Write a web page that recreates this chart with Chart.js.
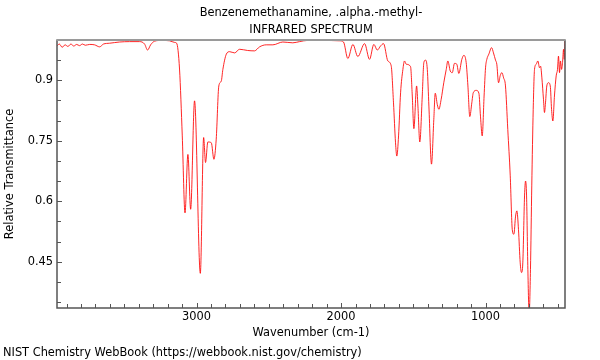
<!DOCTYPE html>
<html>
<head>
<meta charset="utf-8">
<script src="https://cdn.jsdelivr.net/npm/chart.js@4"></script>
<style>
  html, body { margin: 0; padding: 0; background: #fff; }
  #wrap { width: 600px; height: 360px; }
</style>
</head>
<body>
<div id="wrap"><canvas id="c" width="600" height="360"></canvas></div>
<script>
const titleLines = ['Benzenemethanamine, .alpha.-methyl-', 'INFRARED SPECTRUM'];
const footerText = 'NIST Chemistry WebBook (https://webbook.nist.gov/chemistry)';
const xTitle = 'Wavenumber (cm-1)';
const yTitle = 'Relative Transmittance';
const xTickLabels = ['1000', '2000', '3000'];
const yTickLabels = ['0.45', '0.6', '0.75', '0.9'];

const wavenumbers = [
  3966, 3950, 3930, 3910, 3890, 3870, 3850, 3830, 3810, 3790,
  3770, 3740, 3706, 3671, 3644, 3602, 3533, 3464, 3394, 3360,
  3339, 3318, 3291, 3242, 3187, 3152, 3138, 3118, 3099, 3080,
  3060, 3041, 3014, 2974, 2951, 2938, 2922, 2898, 2880, 2864,
  2846, 2829, 2818, 2794, 2771, 2737, 2702, 2647, 2599, 2564,
  2518, 2472, 2403, 2334, 2287, 2230, 2126, 2010, 1983, 1953,
  1918, 1884, 1837, 1803, 1773, 1749, 1727, 1706, 1676, 1653,
  1637, 1623, 1614, 1602, 1588, 1572, 1561, 1549, 1519, 1507,
  1496, 1477, 1468, 1455, 1438, 1427, 1415, 1403, 1392, 1374,
  1358, 1348, 1334, 1323, 1307, 1289, 1272, 1261, 1244, 1230,
  1215, 1199, 1185, 1164, 1150, 1134, 1122, 1109, 1095, 1085,
  1064, 1046, 1035, 1023, 1010, 1000, 991, 977, 958, 945,
  931, 922, 910, 898, 887, 875, 862, 846, 829, 815,
  804, 792, 783, 772, 760, 751, 742, 730, 723, 716,
  707, 698, 689, 680, 670, 661, 649, 638, 626, 619,
  610, 599, 592, 585, 576, 564, 552, 543, 534, 523,
  511, 502, 495, 488, 481, 474, 467, 460, 455, 451
];
const transmittance = [
  0.985, 0.990, 0.982, 0.988, 0.984, 0.990, 0.985, 0.989, 0.986, 0.990,
  0.987, 0.989, 0.988, 0.983, 0.990, 0.992, 0.995, 0.996, 0.996, 0.990,
  0.975, 0.988, 0.997, 0.999, 0.998, 0.994, 0.992, 0.928, 0.762, 0.571,
  0.716, 0.580, 0.849, 0.421, 0.758, 0.696, 0.747, 0.745, 0.704, 0.754,
  0.886, 0.898, 0.927, 0.965, 0.971, 0.968, 0.977, 0.974, 0.973, 0.983,
  0.988, 0.988, 0.995, 0.993, 0.996, 0.999, 0.999, 0.998, 0.995, 0.954,
  0.989, 0.959, 0.991, 0.952, 0.989, 0.975, 0.985, 0.991, 0.948, 0.936,
  0.844, 0.745, 0.712, 0.762, 0.869, 0.927, 0.948, 0.940, 0.934, 0.861,
  0.780, 0.886, 0.836, 0.747, 0.861, 0.944, 0.950, 0.927, 0.836, 0.692,
  0.803, 0.868, 0.840, 0.828, 0.853, 0.894, 0.927, 0.948, 0.923, 0.919,
  0.942, 0.940, 0.917, 0.952, 0.962, 0.944, 0.886, 0.810, 0.844, 0.869,
  0.875, 0.868, 0.811, 0.762, 0.861, 0.931, 0.952, 0.965, 0.981, 0.968,
  0.950, 0.940, 0.894, 0.912, 0.919, 0.906, 0.886, 0.778, 0.663, 0.530,
  0.518, 0.563, 0.576, 0.530, 0.447, 0.423, 0.447, 0.613, 0.650, 0.613,
  0.431, 0.320, 0.431, 0.638, 0.828, 0.927, 0.940, 0.948, 0.931, 0.935,
  0.906, 0.853, 0.820, 0.844, 0.886, 0.894, 0.886, 0.828, 0.799, 0.861,
  0.911, 0.927, 0.960, 0.919, 0.948, 0.927, 0.944, 0.977, 0.952, 0.997
];

const FONT = 'DejaVu Sans';
const FS = 11.4;

const points = wavenumbers.map((w, i) => ({ x: w, y: transmittance[i] }));

function near(v, arr) { return arr.some(s => Math.abs(parseFloat(s) - v) < 1e-6); }

const frameTicks = {
  id: 'frameTicks',
  afterDraw(chart) {
    const { ctx, chartArea: a, scales: { x, y } } = chart;
    ctx.save();
    ctx.strokeStyle = '#555';
    ctx.lineWidth = 1;
    ctx.beginPath();
    x.ticks.forEach(t => {
      const px = Math.round(x.getPixelForValue(t.value)) + 0.5;
      const len = near(t.value, xTickLabels) ? 5 : 4;
      ctx.moveTo(px, a.bottom);
      ctx.lineTo(px, a.bottom - len);
    });
    y.ticks.forEach(t => {
      const py = Math.round(y.getPixelForValue(t.value)) + 0.5;
      const len = near(t.value, yTickLabels) ? 5 : 4;
      ctx.moveTo(a.left, py);
      ctx.lineTo(a.left + len, py);
    });
    ctx.stroke();
    ctx.lineWidth = 1.5;
    ctx.strokeStyle = '#555';
    ctx.beginPath();
    ctx.moveTo(a.left, a.top);
    ctx.lineTo(a.left, a.bottom);
    ctx.lineTo(a.right, a.bottom);
    ctx.lineTo(a.right, a.top);
    ctx.stroke();
    ctx.strokeStyle = '#9a9a9a';
    ctx.lineWidth = 2;
    ctx.beginPath();
    ctx.moveTo(a.left - 0.75, a.top);
    ctx.lineTo(a.right + 0.75, a.top);
    ctx.stroke();
    ctx.restore();
  }
};

new Chart(document.getElementById('c'), {
  type: 'line',
  data: {
    datasets: [{
      data: points,
      borderColor: 'rgba(255,0,0,0.85)',
      borderWidth: 1,
      pointRadius: 0,
      fill: false,
      cubicInterpolationMode: 'monotone'
    }]
  },
  options: {
    responsive: false,
    animation: false,
    devicePixelRatio: 1,
    layout: { padding: { left: 3, right: 35, top: 0, bottom: 0 } },
    plugins: {
      legend: { display: false },
      tooltip: { enabled: false },
      title: {
        display: true,
        text: titleLines,
        fullSize: false,
        color: '#000',
        font: { family: FONT, size: FS, weight: 'normal', lineHeight: 17 / FS },
        padding: { top: 5, bottom: 1 }
      },
      subtitle: {
        display: true,
        text: footerText,
        position: 'bottom',
        align: 'start',
        fullSize: true,
        color: '#000',
        font: { family: FONT, size: FS, weight: 'normal', lineHeight: 14 / FS },
        padding: { top: 0, bottom: 0 }
      }
    },
    scales: {
      x: {
        type: 'linear',
        reverse: true,
        min: 450,
        max: 3966,
        grid: { display: false, drawTicks: false },
        border: { display: false },
        afterBuildTicks(scale) {
          const t = [];
          for (let v = 500; v <= 3900; v += 100) t.push({ value: v });
          scale.ticks = t;
        },
        afterFit(scale) { scale.height = 38; },
        ticks: {
          autoSkip: false,
          maxRotation: 0,
          padding: 2,
          color: '#000',
          font: { family: FONT, size: FS },
          callback: (v) => near(v, xTickLabels) ? String(v) : ''
        },
        title: {
          display: true,
          text: xTitle,
          color: '#000',
          font: { family: FONT, size: FS, lineHeight: 14 / FS },
          padding: { top: 0, bottom: 6 }
        }
      },
      y: {
        type: 'linear',
        min: 0.335,
        max: 1.0,
        grid: { display: false, drawTicks: false },
        border: { display: false },
        afterBuildTicks(scale) {
          const t = [];
          for (let k = 7; k <= 19; k++) t.push({ value: Math.round(k * 5) / 100 });
          scale.ticks = t;
        },
        afterFit(scale) { scale.width = 54; },
        ticks: {
          autoSkip: false,
          padding: 4,
          color: '#000',
          font: { family: FONT, size: FS },
          callback: (v) => {
            const m = yTickLabels.find(s => Math.abs(parseFloat(s) - v) < 1e-6);
            return m ? m : '';
          }
        },
        title: {
          display: true,
          text: yTitle,
          color: '#000',
          font: { family: FONT, size: FS, lineHeight: 14 / FS },
          padding: { top: 0, bottom: 0 }
        }
      }
    }
  },
  plugins: [frameTicks]
});
</script>
</body>
</html>
